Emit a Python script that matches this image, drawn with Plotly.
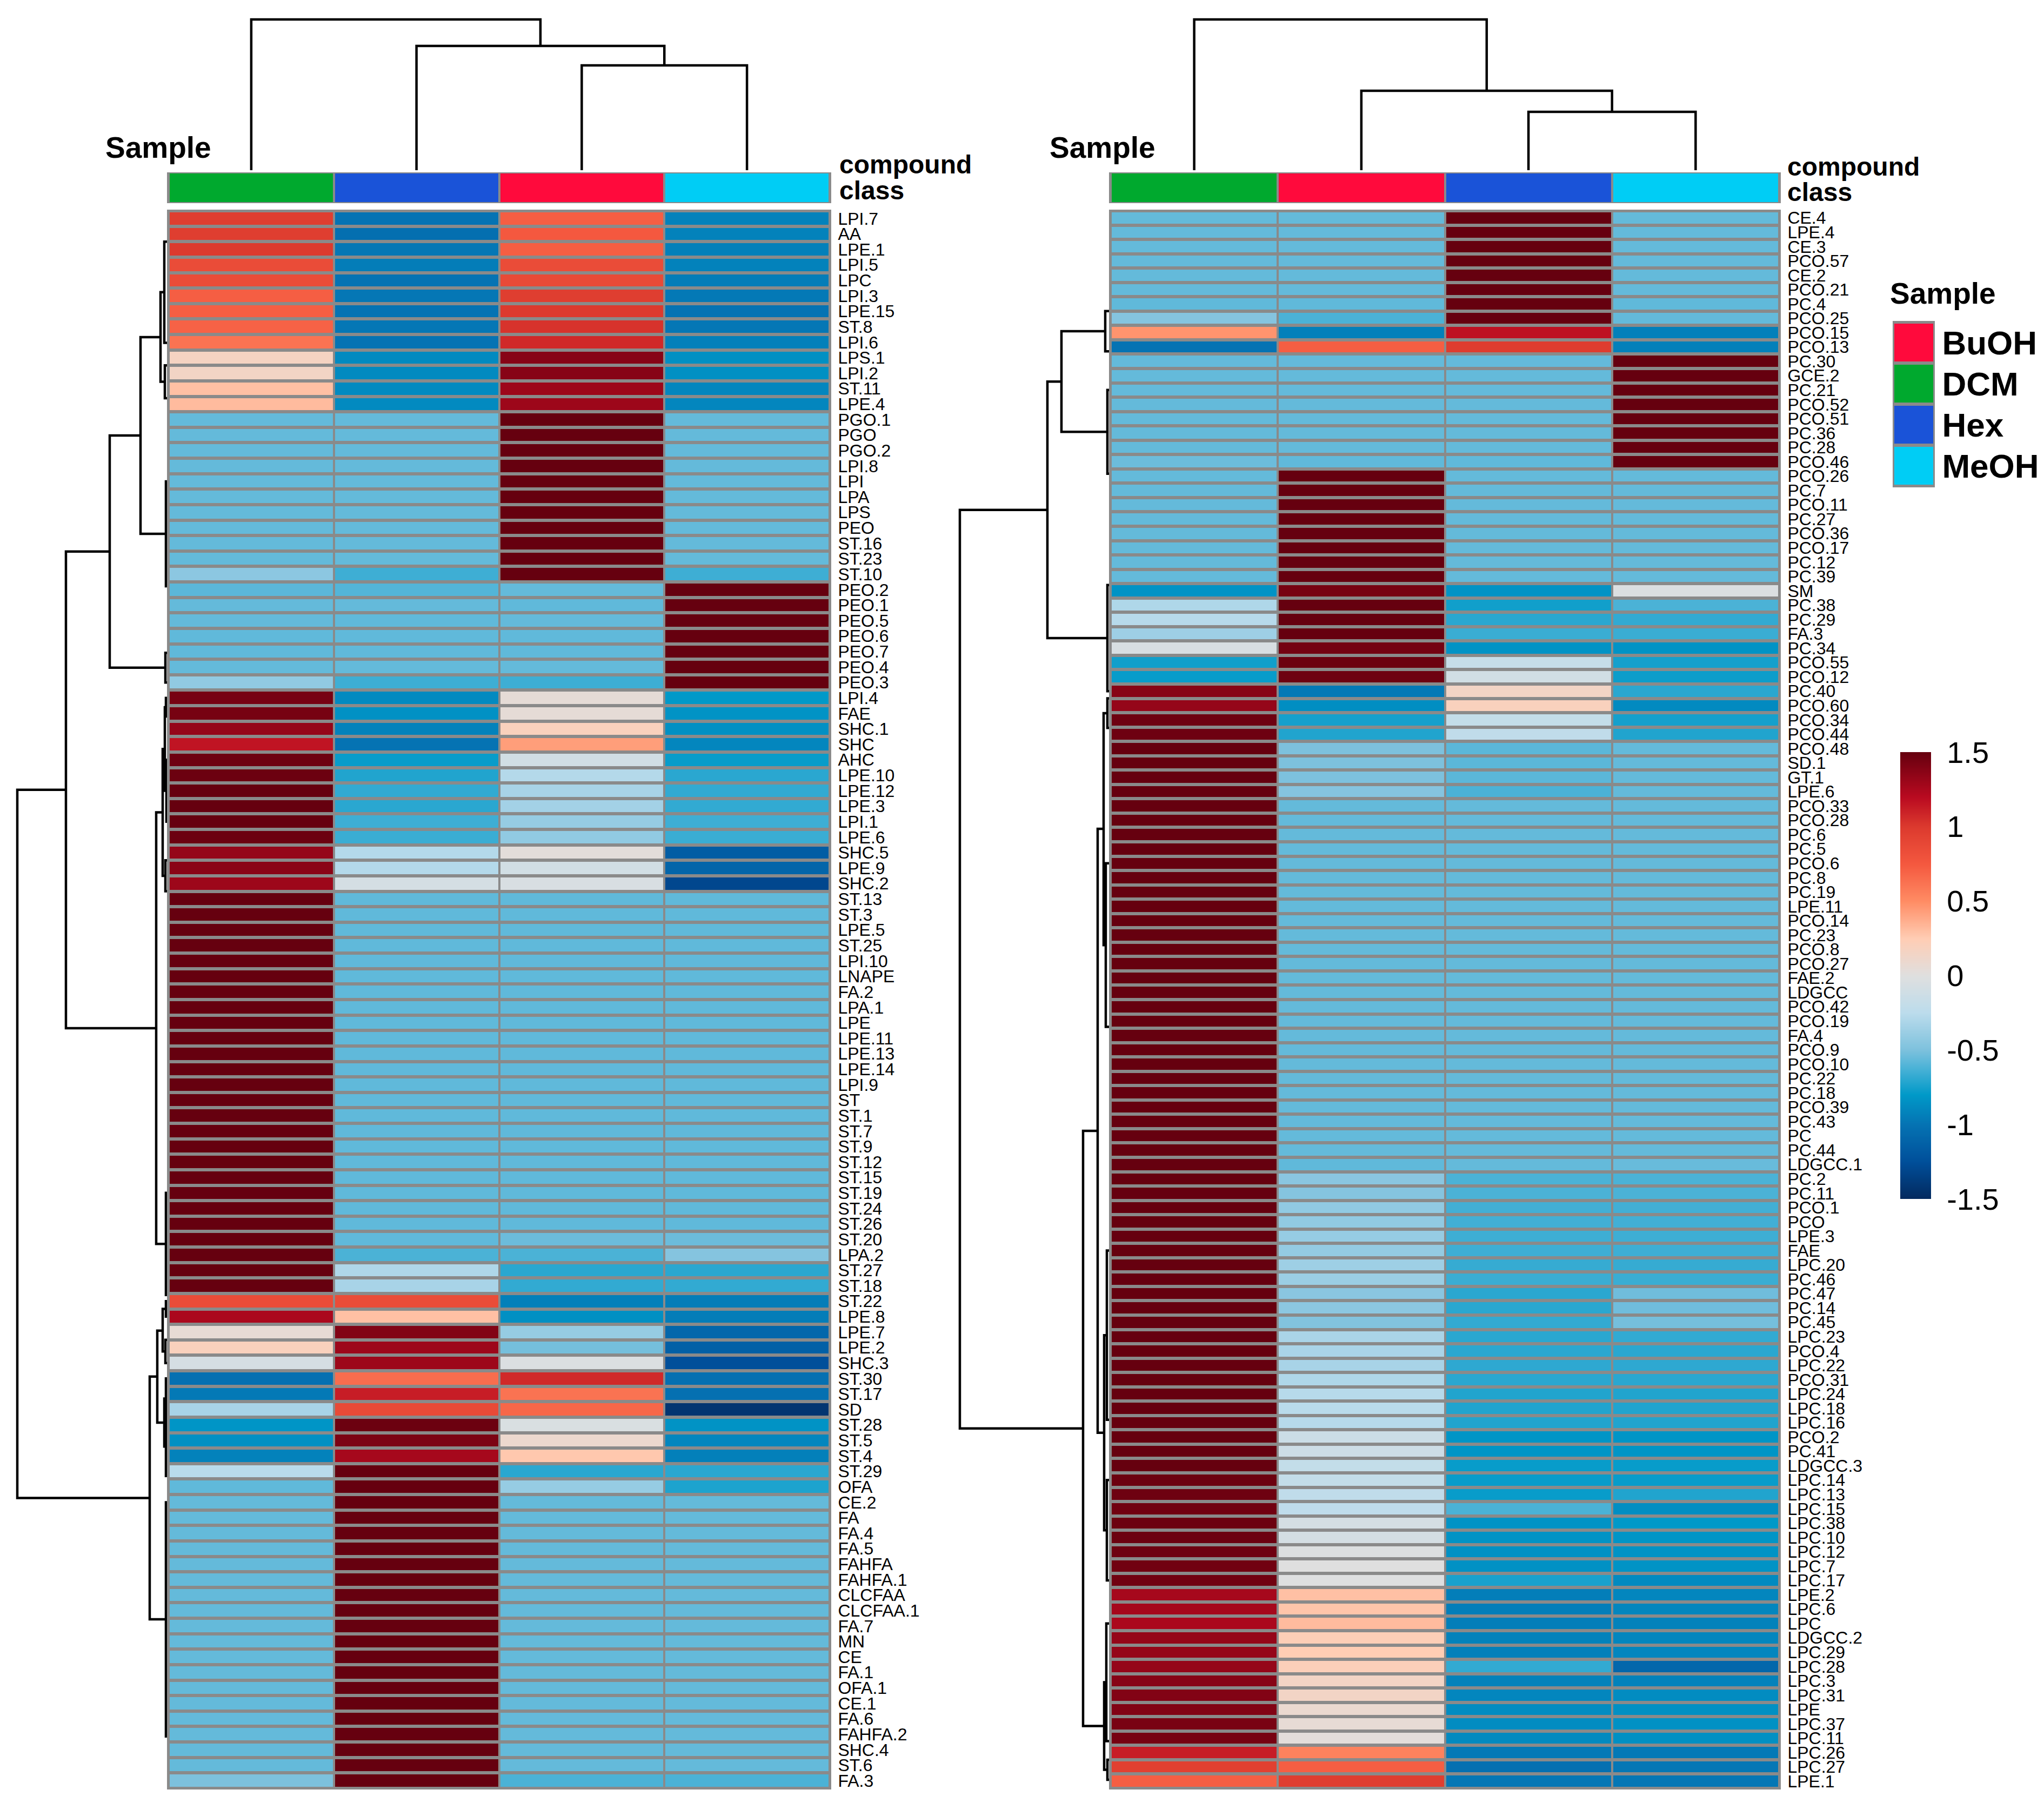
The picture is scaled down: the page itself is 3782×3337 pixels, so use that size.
"""Two clustered heatmaps of lipid classes per extraction solvent."""
import plotly.graph_objects as go

W, H = 3782, 3337
FONT = "Liberation Sans"
GREY = "#8a8a8a"

sample_names = ["BuOH", "DCM", "Hex", "MeOH"]
sample_colors = ["#ff0a3c", "#00a92e", "#1a53d8", "#00cdf5"]

left_samples = ["DCM", "Hex", "BuOH", "MeOH"]
right_samples = ["DCM", "BuOH", "Hex", "MeOH"]

left_labels = [
    "LPI.7", "AA", "LPE.1", "LPI.5", "LPC", "LPI.3", "LPE.15", "ST.8", "LPI.6", "LPS.1", "LPI.2", "ST.11", "LPE.4",
    "PGO.1", "PGO", "PGO.2", "LPI.8", "LPI", "LPA", "LPS", "PEO", "ST.16", "ST.23", "ST.10",
    "PEO.2", "PEO.1", "PEO.5", "PEO.6", "PEO.7", "PEO.4", "PEO.3",
    "LPI.4", "FAE", "SHC.1", "SHC", "AHC", "LPE.10", "LPE.12", "LPE.3", "LPI.1", "LPE.6", "SHC.5", "LPE.9", "SHC.2",
    "ST.13", "ST.3", "LPE.5", "ST.25", "LPI.10", "LNAPE", "FA.2", "LPA.1", "LPE", "LPE.11", "LPE.13", "LPE.14",
    "LPI.9", "ST", "ST.1", "ST.7", "ST.9", "ST.12", "ST.15", "ST.19", "ST.24", "ST.26", "ST.20", "LPA.2", "ST.27", "ST.18",
    "ST.22", "LPE.8", "LPE.7", "LPE.2", "SHC.3", "ST.30", "ST.17", "SD", "ST.28", "ST.5", "ST.4", "ST.29", "OFA",
    "CE.2", "FA", "FA.4", "FA.5", "FAHFA", "FAHFA.1", "CLCFAA", "CLCFAA.1", "FA.7", "MN", "CE", "FA.1", "OFA.1",
    "CE.1", "FA.6", "FAHFA.2", "SHC.4", "ST.6", "FA.3",
]
left_dcm = [
    .97, .97, 1.0, .85, .85, .72, .72, .7, .62, .17, .15, .3, .32,
    -.56, -.56, -.56, -.56, -.56, -.56, -.56, -.56, -.56, -.56, -.44,
    -.58, -.56, -.56, -.57, -.57, -.56, -.42,
    1.44, 1.44, 1.33, 1.16, 1.47, 1.48, 1.5, 1.5, 1.5, 1.48, 1.33, 1.37, 1.3,
    1.5, 1.5, 1.5, 1.5, 1.5, 1.5, 1.5, 1.5, 1.5, 1.5, 1.5, 1.5, 1.5,
    1.5, 1.5, 1.5, 1.5, 1.5, 1.5, 1.5, 1.5, 1.5, 1.5, 1.5, 1.5, 1.5,
    .85, 1.25, .06, .2, -.07, -1.02, -.97, -.33, -.82, -.85, -.92, -.26, -.57,
    -.56, -.56, -.56, -.56, -.56, -.56, -.56, -.56, -.56, -.56, -.56, -.56, -.56, -.56, -.56, -.56, -.56, -.56, -.5,
]
left_hex = [
    -1.0, -1.03, -.98, -.95, -1.0, -.98, -1.0, -.98, -1.0, -.88, -.88, -.88, -.88,
    -.56, -.56, -.56, -.56, -.56, -.56, -.56, -.56, -.56, -.56, -.65,
    -.6, -.56, -.57, -.57, -.57, -.56, -.65,
    -.88, -.84, -.92, -1.0, -.78, -.72, -.68, -.7, -.65, -.66, -.28, -.28, -.08,
    -.57, -.57, -.57, -.57, -.57, -.57, -.57, -.57, -.57, -.57, -.57, -.57, -.57,
    -.57, -.57, -.57, -.57, -.57, -.57, -.57, -.57, -.57, -.57, -.62, -.3, -.33,
    .85, .3, 1.4, 1.3, 1.3, .65, 1.12, .87, 1.48, 1.42, 1.27, 1.5, 1.5,
    1.5, 1.5, 1.5, 1.5, 1.5, 1.5, 1.5, 1.5, 1.5, 1.5, 1.5, 1.5, 1.5, 1.5, 1.5, 1.5, 1.5, 1.5, 1.5,
]
left_buoh = [
    .72, .75, .72, .85, .87, .97, 1.0, 1.03, 1.07, 1.38, 1.38, 1.3, 1.3,
    1.5, 1.5, 1.5, 1.5, 1.5, 1.5, 1.5, 1.5, 1.5, 1.5, 1.5,
    -.56, -.57, -.56, -.57, -.57, -.56, -.65,
    .05, .05, .2, .43, -.1, -.28, -.33, -.35, -.4, -.42, .03, -.1, -.05,
    -.57, -.57, -.57, -.57, -.57, -.57, -.57, -.57, -.57, -.57, -.57, -.57, -.57,
    -.57, -.57, -.57, -.57, -.57, -.57, -.57, -.57, -.57, -.54, -.62, -.7, -.68,
    -.93, -.85, -.4, -.52, -.03, 1.07, .62, .68, -.04, .1, .27, -.7, -.4,
    -.56, -.56, -.56, -.56, -.56, -.56, -.56, -.56, -.56, -.56, -.56, -.56, -.56, -.56, -.56, -.56, -.56, -.56, -.62,
]
left_meoh = [
    -.92, -.92, -.93, -.92, -.95, -.97, -1.0, -.98, -.93, -.85, -.85, -.9, -.9,
    -.56, -.56, -.56, -.56, -.56, -.56, -.56, -.56, -.56, -.56, -.65,
    1.5, 1.5, 1.5, 1.5, 1.5, 1.5, 1.5,
    -.8, -.83, -.85, -.9, -.78, -.7, -.68, -.68, -.65, -.66, -1.15, -1.1, -1.3,
    -.57, -.57, -.57, -.57, -.57, -.57, -.57, -.57, -.57, -.57, -.57, -.57, -.57,
    -.57, -.57, -.57, -.57, -.57, -.57, -.57, -.57, -.57, -.54, -.47, -.7, -.68,
    -.95, -.95, -1.08, -1.13, -1.25, -1.02, -1.02, -1.42, -.83, -.9, -.93, -.7, -.73,
    -.56, -.56, -.56, -.56, -.56, -.56, -.56, -.56, -.56, -.56, -.56, -.56, -.56, -.56, -.56, -.56, -.56, -.56, -.62,
]

right_labels = [
    "CE.4", "LPE.4", "CE.3", "PCO.57", "CE.2", "PCO.21", "PC.4", "PCO.25", "PCO.15", "PCO.13",
    "PC.30", "GCE.2", "PC.21", "PCO.52", "PCO.51", "PC.36", "PC.28", "PCO.46",
    "PCO.26", "PC.7", "PCO.11", "PC.27", "PCO.36", "PCO.17", "PC.12", "PC.39", "SM", "PC.38", "PC.29", "FA.3", "PC.34",
    "PCO.55", "PCO.12",
    "PC.40", "PCO.60", "PCO.34", "PCO.44",
    "PCO.48", "SD.1", "GT.1", "LPE.6", "PCO.33", "PCO.28", "PC.6", "PC.5", "PCO.6", "PC.8", "PC.19", "LPE.11", "PCO.14",
    "PC.23", "PCO.8", "PCO.27", "FAE.2", "LDGCC", "PCO.42", "PCO.19", "FA.4", "PCO.9", "PCO.10", "PC.22", "PC.18",
    "PCO.39", "PC.43", "PC", "PC.44", "LDGCC.1",
    "PC.2", "PC.11", "PCO.1", "PCO", "LPE.3", "FAE", "LPC.20", "PC.46", "PC.47", "PC.14", "PC.45", "LPC.23", "PCO.4",
    "LPC.22", "PCO.31", "LPC.24", "LPC.18", "LPC.16", "PCO.2", "PC.41", "LDGCC.3", "LPC.14", "LPC.13", "LPC.15",
    "LPC.38", "LPC.10", "LPC.12", "LPC.7", "LPC.17",
    "LPE.2", "LPC.6", "LPC", "LDGCC.2", "LPC.29", "LPC.28", "LPC.3", "LPC.31", "LPE", "LPC.37", "LPC.11", "LPC.26",
    "LPC.27", "LPE.1",
]
right_dcm = [
    -.56, -.56, -.56, -.56, -.56, -.56, -.57, -.47, .47, -1.0,
    -.56, -.56, -.56, -.56, -.56, -.56, -.56, -.54,
    -.56, -.56, -.56, -.56, -.56, -.56, -.56, -.56, -.83, -.3, -.27, -.37, -.05, -.76, -.78,
    1.38, 1.33, 1.47, 1.47,
    1.5, 1.5, 1.5, 1.5, 1.5, 1.5, 1.5, 1.5, 1.5, 1.5, 1.5, 1.5, 1.5, 1.5, 1.5,
    1.5, 1.5, 1.5, 1.5, 1.5, 1.5, 1.5, 1.5, 1.5, 1.5, 1.5, 1.5, 1.5, 1.5, 1.5,
    1.5, 1.5, 1.5, 1.5, 1.5, 1.5, 1.5, 1.5, 1.5, 1.5, 1.5, 1.5, 1.5, 1.5, 1.5,
    1.5, 1.5, 1.5, 1.5, 1.5, 1.5, 1.48, 1.47, 1.46, 1.48, 1.48, 1.47, 1.46, 1.46,
    1.27, 1.27, 1.25, 1.33, 1.33, 1.33, 1.38, 1.4, 1.4, 1.43, 1.44, 1.12, .95, .72,
]
right_buoh = [
    -.56, -.56, -.56, -.56, -.56, -.56, -.57, -.62, -.93, .72,
    -.56, -.56, -.56, -.56, -.56, -.56, -.56, -.57,
    1.5, 1.5, 1.5, 1.5, 1.5, 1.5, 1.5, 1.5, 1.44, 1.5, 1.5, 1.5, 1.45, 1.48, 1.47,
    -.97, -.86, -.75, -.72,
    -.5, -.5, -.5, -.47, -.56, -.56, -.56, -.56, -.56, -.56, -.56, -.56, -.56, -.56, -.56,
    -.56, -.56, -.56, -.56, -.56, -.56, -.56, -.56, -.56, -.56, -.56, -.56, -.56, -.56, -.57,
    -.45, -.47, -.42, -.42, -.4, -.41, -.37, -.38, -.45, -.44, -.48, -.32, -.32, -.33, -.3,
    -.27, -.26, -.27, -.14, -.13, -.2, -.2, -.22, -.23, -.08, -.08, -.02, 0, -.01,
    .3, .28, .32, .23, .25, .22, .15, .15, .09, .06, .03, .55, .72, .97,
]
right_hex = [
    1.5, 1.5, 1.5, 1.5, 1.5, 1.5, 1.5, 1.5, 1.17, .98,
    -.56, -.56, -.56, -.56, -.56, -.56, -.56, -.57,
    -.56, -.56, -.56, -.56, -.56, -.56, -.56, -.56, -.83, -.76, -.7, -.66, -.83, -.18, -.1,
    .15, .2, -.2, -.22,
    -.58, -.58, -.58, -.62, -.56, -.56, -.56, -.56, -.56, -.56, -.56, -.56, -.56, -.56, -.56,
    -.56, -.56, -.56, -.56, -.56, -.56, -.56, -.56, -.56, -.56, -.56, -.56, -.56, -.56, -.56,
    -.62, -.62, -.64, -.64, -.65, -.65, -.67, -.66, -.7, -.7, -.68, -.7, -.7, -.69, -.7,
    -.72, -.72, -.72, -.82, -.82, -.78, -.78, -.78, -.62, -.83, -.83, -.84, -.84, -.74,
    -.94, -.94, -.94, -.92, -.93, -.68, -.92, -.9, -.87, -.87, -.88, -.97, -1.02, -.98,
]
right_meoh = [
    -.56, -.56, -.56, -.56, -.56, -.56, -.57, -.56, -.93, -.93,
    1.5, 1.5, 1.5, 1.5, 1.5, 1.5, 1.5, 1.5,
    -.56, -.56, -.56, -.56, -.56, -.56, -.56, -.56, -.03, -.62, -.68, -.66, -.83, -.75, -.77,
    -.7, -.88, -.75, -.72,
    -.56, -.56, -.56, -.56, -.56, -.56, -.56, -.56, -.56, -.56, -.56, -.56, -.56, -.56, -.56,
    -.56, -.56, -.56, -.56, -.56, -.56, -.56, -.56, -.56, -.56, -.56, -.56, -.56, -.56, -.55,
    -.62, -.62, -.64, -.64, -.65, -.65, -.67, -.66, -.53, -.53, -.52, -.68, -.7, -.69, -.7,
    -.72, -.72, -.72, -.82, -.82, -.78, -.78, -.72, -.86, -.8, -.82, -.83, -.83, -.88,
    -.9, -.9, -.92, -.9, -.9, -1.08, -.92, -.87, -.85, -.84, -.85, -.97, -.98, -.98,
]

# merges as (position a, height a, position b, height b, height)
left_top_tree = [(2, 0, 3, 0, 194), (1, 0, 2.5, 194, 230), (0, 0, 1.75, 230, 279)]
right_top_tree = [(2, 0, 3, 0, 108), (1, 0, 2.5, 108, 147), (0, 0, 1.75, 147, 279)]
left_row_tree = [
    (1.5, 0, 8.04, 0, 5), (9.5, 0, 11.62, 0, 4), (17, 0, 23.78, 0, 2), (28.08, 0, 30, 0, 3),
    (31, 0, 32.2, 0, 2), (35, 0, 39, 0, 1), (41.5, 0, 43.5, 0, 3), (63, 0, 69.6, 0, 2),
    (70, 0, 71, 0, 2), (72.5, 0, 74, 0, 3), (75, 0, 77.6, 0, 2), (77.5, 0, 81.3, 0, 2), (83, 0, 98.14, 0, 2),
    (4.77, 5, 10.56, 4, 12), (7.67, 12, 20.39, 2, 49), (14.03, 49, 29.04, 3, 106),
    (31.6, 2, 37, 1, 4), (34.3, 4, 42.5, 3, 8), (38.4, 8, 66.3, 2, 20), (21.53, 106, 52.35, 20, 187),
    (70.5, 2, 73.25, 3, 8), (76.3, 2, 79.4, 2, 5), (71.9, 8, 77.85, 5, 18), (74.87, 18, 90.57, 2, 32),
    (36.94, 187, 82.72, 32, 277),
]
right_row_tree = [
    (6.5, 0, 9.3, 0, 7), (12, 0, 17.84, 0, 3), (25.6, 0, 33, 0, 3),
    (33.5, 0, 35.56, 0, 3), (45, 0, 56.4, 0, 6), (72, 0, 83.8, 0, 4), (88, 0, 95, 0, 4),
    (98, 0, 106.2, 0, 5), (107.5, 0, 108.9, 0, 3),
    (7.9, 7, 14.92, 3, 88), (11.41, 88, 29.3, 3, 114),
    (34.53, 3, 50.7, 6, 10), (77.9, 4, 91.5, 4, 9), (42.6, 10, 84.7, 9, 21),
    (102.1, 5, 108.2, 3, 9), (63.65, 21, 105.15, 9, 48),
    (20.36, 114, 84.4, 48, 276),
]

scale_values = [-1.5, -1.25, -1.0, -.8, -.6, -.5, -.25, 0, .25, .5, .75, 1.0, 1.2, 1.5]
scale_colors = [
    "#03295e", "#004f9a", "#0573b3", "#0099c8", "#53b5d8", "#7dc1dd", "#bcdcec",
    "#dfdfdf", "#ffcdb4", "#ff8c64", "#f4583f", "#dc3a2e", "#b90a20", "#66000f",
]
bar_ticks = [-1.5, -1, -.5, 0, .5, 1, 1.5]
bar_labels = ["-1.5", "-1", "-0.5", "0", "0.5", "1", "1.5"]

assert len(left_labels) == len(left_dcm) == len(left_hex) == len(left_buoh) == len(left_meoh)
assert len(right_labels) == len(right_dcm) == len(right_hex) == len(right_buoh) == len(right_meoh)


def fx(px):
    return px / W


def fy(px):
    return 1 - px / H


fig = go.Figure()
layout_axes = {}
panel_rects = []
_axis_count = 0


def add_axes(x_px, y_px, x_range, y_range, **y_extra):
    """Register an x/y axis pair placed by pixel box, return the trace refs."""
    global _axis_count
    _axis_count += 1
    n = _axis_count
    hidden = dict(showgrid=False, zeroline=False, showticklabels=False, ticks="", showline=False, automargin=False)
    layout_axes[f"xaxis{n}"] = dict(hidden, domain=[fx(x_px[0]), fx(x_px[1])], range=x_range, anchor=f"y{n}")
    layout_axes[f"yaxis{n}"] = dict(hidden, domain=[fy(y_px[1]), fy(y_px[0])], range=y_range, anchor=f"x{n}")
    layout_axes[f"yaxis{n}"].update(y_extra)
    return f"x{n}", f"y{n}"


def tick_style(size, standoff, **font_extra):
    return dict(side="right", tickmode="array", showticklabels=True, ticks="outside", ticklen=standoff,
                tickcolor="rgba(0,0,0,0)", tickfont=dict(family=FONT, size=size, color="black", **font_extra))


def tree_lines(tree):
    """Flatten merges to along/height polylines for a scatter trace."""
    pos, hgt = [], []
    for pa, ha, pb, hb, h in tree:
        pos += [pa, pa, pb, pb, None]
        hgt += [ha, h, h, hb, None]
    return pos, hgt


def add_sample_strip(samples, x_px, y_px):
    xa, ya = add_axes((x_px[0] + 3, x_px[1] - 3), (y_px[0] + 2, y_px[1] - 2), [-.5, 3.5], [.5, -.5])
    colors = [sample_colors[sample_names.index(s)] for s in samples]
    scale = [[i / 3, c] for i, c in enumerate(colors)]
    fig.add_trace(go.Heatmap(z=[[0, 1, 2, 3]], x=[0, 1, 2, 3], y=[0], colorscale=scale, zmin=0, zmax=3,
                             showscale=False, xgap=4, hoverinfo="skip", xaxis=xa, yaxis=ya))
    panel_rects.append((x_px, y_px))


def add_heat(columns, labels, x_px, y_px):
    n = len(labels)
    rows = [list(r) for r in zip(*columns)]
    xa, ya = add_axes((x_px[0] + 3, x_px[1] - 3), (y_px[0] + 2, y_px[1] - 2), [-.5, 3.5], [n - .5, -.5],
                      tickvals=list(range(n)), ticktext=labels, **tick_style(32, 8))
    fig.add_trace(go.Heatmap(z=rows, x=[0, 1, 2, 3], y=list(range(n)), coloraxis="coloraxis",
                             xgap=4, ygap=6, xaxis=xa, yaxis=ya,
                             hovertemplate="%{y}: %{z}<extra></extra>"))
    panel_rects.append((x_px, y_px))


def add_tree(tree, x_px, y_px, x_range, y_range, vertical):
    pos, hgt = tree_lines(tree)
    xa, ya = add_axes(x_px, y_px, x_range, y_range)
    x, y = (pos, hgt) if vertical else (hgt, pos)
    fig.add_trace(go.Scatter(x=x, y=y, mode="lines", line=dict(color="black", width=4.5), cliponaxis=False,
                             hoverinfo="skip", showlegend=False, xaxis=xa, yaxis=ya))


HEAT_Y = (388, 3312)
STRIP_Y = (319, 376)
LEFT_X = (309, 1538)
RIGHT_X = (2052, 3295)

add_heat([left_dcm, left_hex, left_buoh, left_meoh], left_labels, LEFT_X, HEAT_Y)
add_heat([right_dcm, right_buoh, right_hex, right_meoh], right_labels, RIGHT_X, HEAT_Y)
add_sample_strip(left_samples, LEFT_X, STRIP_Y)
add_sample_strip(right_samples, RIGHT_X, STRIP_Y)

add_tree(left_top_tree, (LEFT_X[0] + 3, LEFT_X[1] - 3), (30, 315), [-.5, 3.5], [0, 285], True)
add_tree(right_top_tree, (RIGHT_X[0] + 3, RIGHT_X[1] - 3), (30, 315), [-.5, 3.5], [0, 285], True)
add_tree(left_row_tree, (20, 309), (390, 3310), [289, 0], [len(left_labels) - .5, -.5], False)
add_tree(right_row_tree, (1770, 2052), (390, 3310), [282, 0], [len(right_labels) - .5, -.5], False)

# sample legend is a small heatmap with its labels on the right
LEG_X, LEG_Y = (3502, 3580), (594, 902)
xa, ya = add_axes((LEG_X[0] + 3, LEG_X[1] - 3), (LEG_Y[0] + 2, LEG_Y[1] - 2), [-.5, .5], [3.5, -.5],
                  tickvals=[0, 1, 2, 3], ticktext=sample_names, **tick_style(62, 3, weight=700))
fig.add_trace(go.Heatmap(z=[[0], [1], [2], [3]], x=[0], y=[0, 1, 2, 3],
                         colorscale=[[i / 3, c] for i, c in enumerate(sample_colors)], zmin=0, zmax=3,
                         showscale=False, ygap=6, hoverinfo="skip", xaxis=xa, yaxis=ya))
panel_rects.append((LEG_X, LEG_Y))

# colour key: a smooth one-column heatmap drawn from the same scale
xa, ya = add_axes((3516, 3573), (1392, 2219), [0, 1], [-1.5, 1.5],
                  tickvals=bar_ticks, ticktext=bar_labels, **tick_style(56, 17))
fig.add_trace(go.Heatmap(z=[[v, v] for v in scale_values], x=[0, 1], y=scale_values, coloraxis="coloraxis",
                         zsmooth="best", hoverinfo="skip", xaxis=xa, yaxis=ya))

shapes = [
    dict(type="rect", xref="paper", yref="paper", x0=fx(xp[0]), x1=fx(xp[1]), y0=fy(yp[1]), y1=fy(yp[0]),
         fillcolor=GREY, line_width=0, layer="below")
    for xp, yp in panel_rects
]


def note(text, x, y, size):
    return dict(text=text, xref="paper", yref="paper", x=fx(x), y=fy(y), xanchor="left", yanchor="middle",
                showarrow=False, font=dict(family=FONT, size=size, color="black", weight=700))


annotations = [
    note("Sample", 193, 273, 55),
    note("compound", 1551, 304, 48),
    note("class", 1551, 352, 48),
    note("Sample", 1940, 273, 55),
    note("compound", 3305, 308, 48),
    note("class", 3305, 356, 48),
    note("Sample", 3495, 543, 55),
]

span = scale_values[-1] - scale_values[0]
fig.update_layout(
    width=W,
    height=H,
    margin=dict(l=0, r=0, t=0, b=0),
    paper_bgcolor="white",
    plot_bgcolor="rgba(0,0,0,0)",
    font=dict(family=FONT, color="black"),
    showlegend=False,
    shapes=shapes,
    annotations=annotations,
    coloraxis=dict(
        cmin=-1.5,
        cmax=1.5,
        showscale=False,
        colorscale=[[(v - scale_values[0]) / span, c] for v, c in zip(scale_values, scale_colors)],
    ),
    **layout_axes,
)

fig.write_html("out.html", config={"displayModeBar": False}, post_script="document.body.style.margin='0';")
